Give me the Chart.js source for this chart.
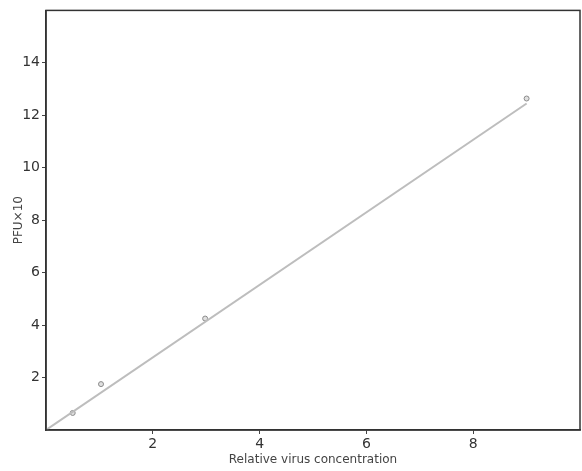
<!DOCTYPE html>
<html lang="en">
<head>
  <meta charset="UTF-8" />
  <title>PFU vs relative virus concentration</title>
  <script src="https://cdn.jsdelivr.net/npm/chart.js"></script>
  <style>
    html, body { margin: 0; padding: 0; background: #fff; }
    #wrap { width: 582px; height: 471px; }
  </style>
</head>
<body>
<div id="wrap"><canvas id="chart" width="582" height="471"></canvas></div>
<script>
  // measured points
  const concentration = [0.5, 1.03, 2.98, 9.0];
  const pfu = [0.65, 1.75, 4.25, 12.64];
  // fitted line ends
  const fitX = [0, 9.0];
  const fitY = [0, 12.45];
  const xTicks = [2, 4, 6, 8];
  const yTicks = [2, 4, 6, 8, 10, 12, 14];

  const pts = concentration.map((x, i) => ({ x, y: pfu[i] }));
  const fit = fitX.map((x, i) => ({ x, y: fitY[i] }));

  // box round the plot
  const frame = {
    id: 'frame',
    afterDraw(chart) {
      const a = chart.chartArea, c = chart.ctx;
      c.save();
      c.strokeStyle = '#333';
      c.lineWidth = 1.5;
      c.strokeRect(a.left, a.top, a.right - a.left, a.bottom - a.top);
      c.restore();
    }
  };

  const font = { family: 'DejaVu Sans', size: 14 };

  new Chart(document.getElementById('chart'), {
    type: 'scatter',
    data: {
      datasets: [
        {
          data: fit,
          showLine: true,
          borderColor: '#bdbdbd',
          borderWidth: 2,
          pointRadius: 0
        },
        {
          data: pts,
          pointRadius: 2.5,
          pointBorderWidth: 1,
          pointBorderColor: '#8a8a8a',
          pointBackgroundColor: '#e0e0e0'
        }
      ]
    },
    options: {
      responsive: false,
      animation: false,
      layout: { padding: { top: 8, right: 2, left: 0, bottom: 0 } },
      plugins: { legend: { display: false }, tooltip: { enabled: false } },
      scales: {
        x: {
          type: 'linear', min: 0, max: 10,
          afterFit(s) { s.height = 41; },
          afterBuildTicks(s) { s.ticks = xTicks.map(v => ({ value: v })); },
          afterCalculateLabelRotation(s) {},
          grid: { drawOnChartArea: false, tickLength: 4, color: '#444' },
          border: { color: '#333', width: 1.5 },
          ticks: { color: '#333', font, padding: 2 },
          title: {
            display: true, text: 'Relative virus concentration',
            color: '#444', font: { family: 'DejaVu Sans', size: 12 }, padding: { top: 5 }
          }
        },
        y: {
          type: 'linear', min: 0, max: 16,
          afterFit(s) { s.width = 46; },
          afterBuildTicks(s) { s.ticks = yTicks.map(v => ({ value: v })); },
          grid: { drawOnChartArea: false, tickLength: 4, color: '#444' },
          border: { color: '#333', width: 1.5 },
          ticks: { color: '#333', font, padding: 2 },
          title: {
            display: true, text: 'PFU×10',
            color: '#444', font: { family: 'DejaVu Sans', size: 12 }, padding: { top: 12, bottom: 0 }
          }
        }
      }
    },
    plugins: [frame, {
      id: 'noPad',
      afterLayout(chart) {
        // push the right side of the box out to the reference edge
        const xs = chart.scales.x;
        const a = chart.chartArea;
        const want = 580;
        if (a.right < want) {
          a.right = want;
          a.width = a.right - a.left;
          xs.right = want;
          xs.width = xs.right - xs.left;
          xs.configure && xs.configure();
        }
      }
    }]
  });
</script>
</body>
</html>
